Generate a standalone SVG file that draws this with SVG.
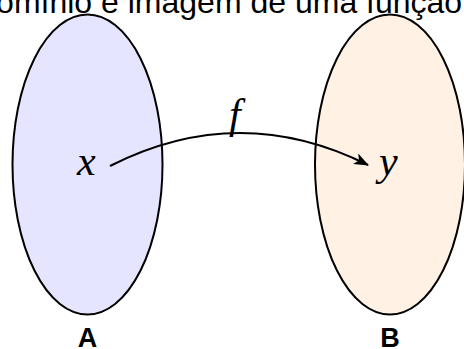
<svg xmlns="http://www.w3.org/2000/svg" width="464" height="349" viewBox="0 0 464 349">
<defs>
<style>
.set{stroke:#000;stroke-width:2}
.math{font-family:"Liberation Serif","Times New Roman",serif;font-style:italic;font-size:42px;fill:#000}
.lbl{font-family:"Liberation Sans",Arial,sans-serif;font-weight:bold;font-size:27px;fill:#000}
.title{font-family:"Liberation Sans",Arial,sans-serif;font-size:32px;fill:#000}
</style>
<marker id="arr" viewBox="0 0 15 12" refX="14" refY="6" markerWidth="15" markerHeight="12" markerUnits="userSpaceOnUse" orient="auto">
<path d="M0,0 L15,6 L0,12 L4,6 Z" fill="#000"/>
</marker>
</defs>
<rect width="464" height="349" fill="#fff"/>
<text class="title" x="-27" y="13">Domínio e imagem de uma função</text>
<g id="A">
<ellipse class="set" cx="87.5" cy="164.5" rx="75" ry="150" fill="#E5E5FF"/>
<text class="math" x="77" y="175">x</text>
<text class="lbl" x="87.5" y="347" text-anchor="middle">A</text>
</g>
<g id="B">
<ellipse class="set" cx="390" cy="164.5" rx="75" ry="150" fill="#FFF2E5"/>
<text class="math" x="379" y="175">y</text>
<text class="lbl" x="390" y="347" text-anchor="middle">B</text>
</g>
<g id="connectors">
<path d="M110,166 Q239,100.5 368,165" fill="none" stroke="#000" stroke-width="2" marker-end="url(#arr)"/>
<text class="math" x="229" y="128">f</text>
</g>
</svg>
